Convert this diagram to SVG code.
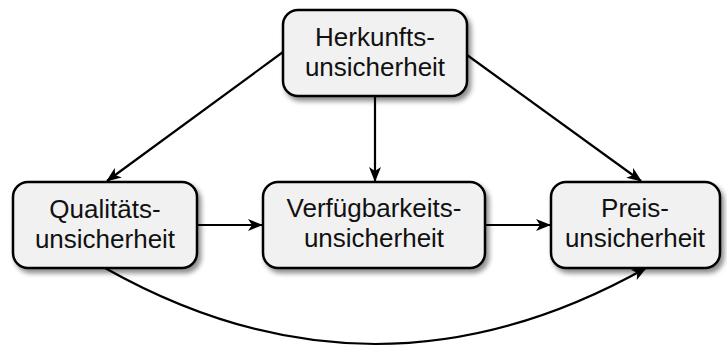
<svg xmlns="http://www.w3.org/2000/svg" width="727" height="347" viewBox="0 0 727 347">
  <style>
    .box { fill: #f1f1f1; stroke: #000; stroke-width: 2.5; filter: url(#shadow); }
    .lbl { font-family: "Liberation Sans", Arial, sans-serif; font-size: 26px; fill: #111; text-anchor: middle; }
    .edge { fill: none; stroke: #000; stroke-width: 2.2; marker-end: url(#arrow); }
  </style>
  <defs>
    <filter id="shadow" x="-20%" y="-20%" width="140%" height="150%">
      <feDropShadow dx="3" dy="4" stdDeviation="2.5" flood-color="#000" flood-opacity="0.45"/>
    </filter>
    <marker id="arrow" viewBox="0 0 15 12" refX="14" refY="6" markerWidth="15" markerHeight="12" markerUnits="userSpaceOnUse" orient="auto">
      <path d="M0,0 L15,6 L0,12 L4,6 Z" fill="#000"/>
    </marker>
  </defs>

  <g id="connectors">
    <line class="edge" x1="283" y1="52" x2="107" y2="181"/>
    <line class="edge" x1="375" y1="97" x2="375" y2="181"/>
    <line class="edge" x1="467" y1="55" x2="641" y2="181"/>
    <line class="edge" x1="197" y1="225" x2="262" y2="225"/>
    <line class="edge" x1="485" y1="225" x2="550" y2="225"/>
    <path class="edge" d="M105,268 Q375,420 646,268"/>
  </g>

  <g id="herkunft">
    <rect class="box" x="283" y="10" width="184" height="86" rx="15"/>
    <text class="lbl" x="375" y="46">Herkunfts-</text>
    <text class="lbl" x="375" y="76">unsicherheit</text>
  </g>

  <g id="qualitaet">
    <rect class="box" x="13" y="182" width="184" height="86" rx="15"/>
    <text class="lbl" x="105" y="218">Qualitäts-</text>
    <text class="lbl" x="105" y="248">unsicherheit</text>
  </g>

  <g id="verfuegbarkeit">
    <rect class="box" x="263" y="182" width="222" height="86" rx="15"/>
    <text class="lbl" x="374" y="217">Verfügbarkeits-</text>
    <text class="lbl" x="374" y="247">unsicherheit</text>
  </g>

  <g id="preis">
    <rect class="box" x="551" y="182" width="169" height="86" rx="15"/>
    <text class="lbl" x="635" y="217">Preis-</text>
    <text class="lbl" x="635" y="247">unsicherheit</text>
  </g>
</svg>
